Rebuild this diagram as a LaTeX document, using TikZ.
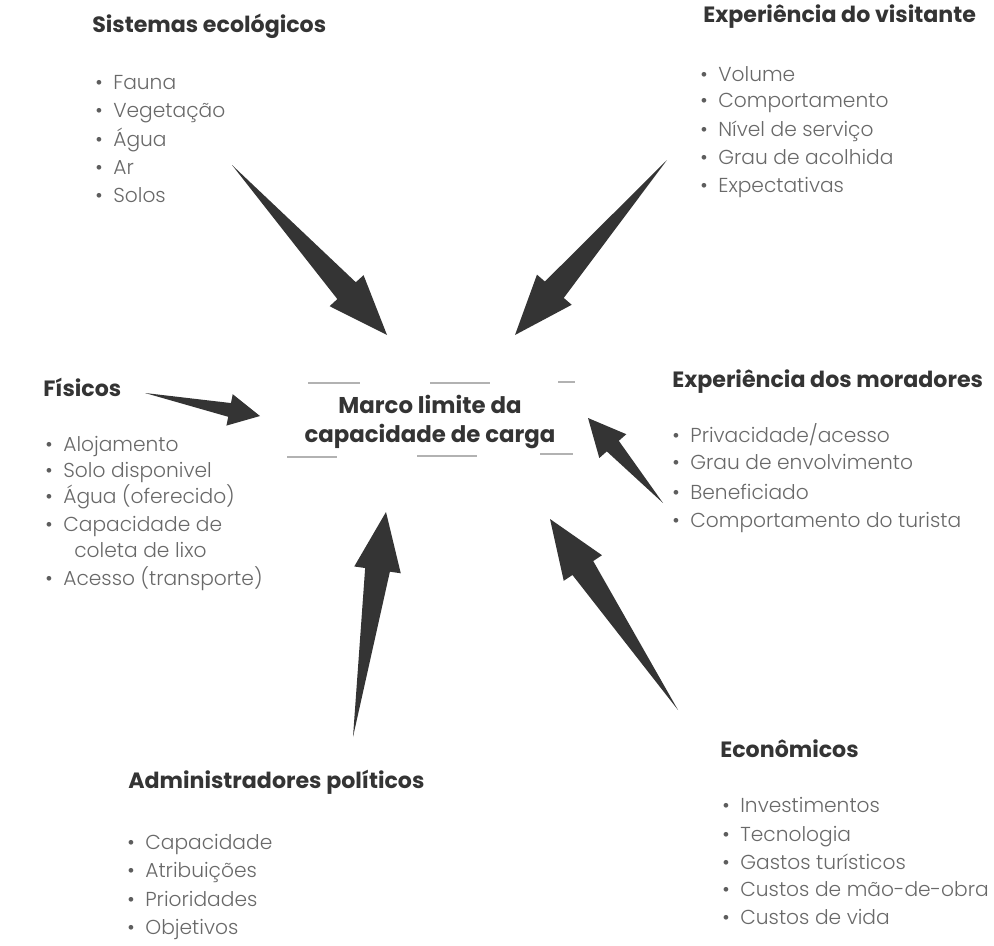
\documentclass[tikz,border=0pt]{standalone}
\usepackage{fontspec}
\setmainfont{Poppins}
\newfontfamily\thinfont{Poppins Light}
\usepackage{tikz}
\usetikzlibrary{calc}
\usetikzlibrary{positioning}
\definecolor{ink}{RGB}{52,52,52}
\definecolor{soft}{RGB}{105,105,105}
\tikzset{every picture/.style={x=0.02cm,y=-0.02cm}}

\begin{document}
\begin{tikzpicture}[hd/.style={anchor=west, inner sep=0pt, text=ink, text height=1.5ex, text depth=0.5ex, font=\bfseries\fontsize{12.6}{15}\selectfont},txt/.style={anchor=west, inner sep=0pt, text=soft, text height=1.5ex, text depth=0.5ex, font=\thinfont\fontsize{11.5}{14}\selectfont},it/.style={txt, execute at begin node={\llap{\textcolor{ink!80}{\textbullet}\hspace{6pt}}}},rim/.style={draw=black!30, line width=0.6pt}]
\useasboundingbox (0,0) rectangle (994,946);
% centre
\node (mlc) at (430,422) [align=center, inner sep=0pt, text=ink, font=\bfseries\fontsize{13}{16}\selectfont] {Marco limite da\\capacidade de carga};
\draw[rim] (308,383) -- (360,383) (430,383) -- (490,383) (558,382) -- (575,382);
\draw[rim] (287,457) -- (337,457) (417,456) -- (477,456) (540,454) -- (573,454);
% groups
\node (eco) at (92,28) [hd] {Sistemas ecológicos};
\foreach \y/\t [count=\i] in {85/Fauna, 113/Vegetação, 142/Água, 170/Ar, 198/Solos}
\node (eco\i) at (113,\y) [it] {\t};
\node (vis) at (703,18) [hd] {Experiência do visitante};
\foreach \y/\t [count=\i] in {77/Volume, 103/Comportamento, 132/Nível de serviço, 160/Grau de acolhida, 188/Expectativas}
\node (vis\i) at (718,\y) [it] {\t};
\node (fis) at (43,392) [hd] {Físicos};
\foreach \y/\t [count=\i] in {447/Alojamento, 473/Solo disponivel, 499/Água (oferecido), 527/Capacidade de, 581/Acesso (transporte)}
\node (fis\i) at (63,\y) [it] {\t};
\node (fis4b) at (74,553) [txt] {coleta de lixo};
\node (mor) at (672,383) [hd] {Experiência dos moradores};
\foreach \y/\t [count=\i] in {438/{Privacidade/acesso}, 465/Grau de envolvimento, 495/Beneficiado, 523/Comportamento do turista}
\node (mor\i) at (690,\y) [it] {\t};
\node (adm) at (128,784) [hd] {Administradores políticos};
\foreach \y/\t [count=\i] in {845/Capacidade, 873/Atribuições, 902/Prioridades, 930/Objetivos}
\node (adm\i) at (145,\y) [it] {\t};
\node (ecn) at (720,753) [hd] {Econômicos};
\foreach \y/\t [count=\i] in {808/Investimentos, 837/Tecnologia, 865/Gastos turísticos, 892/Custos de mão-de-obra, 920/Custos de vida}
\node (ecn\i) at (740,\y) [it] {\t};
% arrow ends
\coordinate (eco-t) at (232,165); \coordinate (eco-p) at (387,335);
\coordinate (vis-t) at (667,160); \coordinate (vis-p) at (515,335);
\coordinate (fis-t) at (145,393); \coordinate (fis-p) at (260,416);
\coordinate (mor-t) at (663,503); \coordinate (mor-p) at (588,418);
\coordinate (adm-t) at (353,737); \coordinate (adm-p) at (386,512);
\coordinate (ecn-t) at (678,710); \coordinate (ecn-p) at (550,519);
\foreach \a/\h/\w/\s in {eco/1.2/0.46/0.25, vis/1.2/0.46/0.25, fis/0.62/0.32/0.14, mor/0.75/0.36/0.16, adm/1.17/0.47/0.25, ecn/1.18/0.46/0.25} {
\coordinate (b) at ($(\a-p)!\h cm!(\a-t)$);
\fill[ink] (\a-t) -- ($(b)!\s cm!90:(\a-p)$) -- ($(b)!\w cm!90:(\a-p)$) -- (\a-p) -- ($(b)!\w cm!-90:(\a-p)$) -- ($(b)!\s cm!-90:(\a-p)$) -- cycle;
}
\end{tikzpicture}
\end{document}
